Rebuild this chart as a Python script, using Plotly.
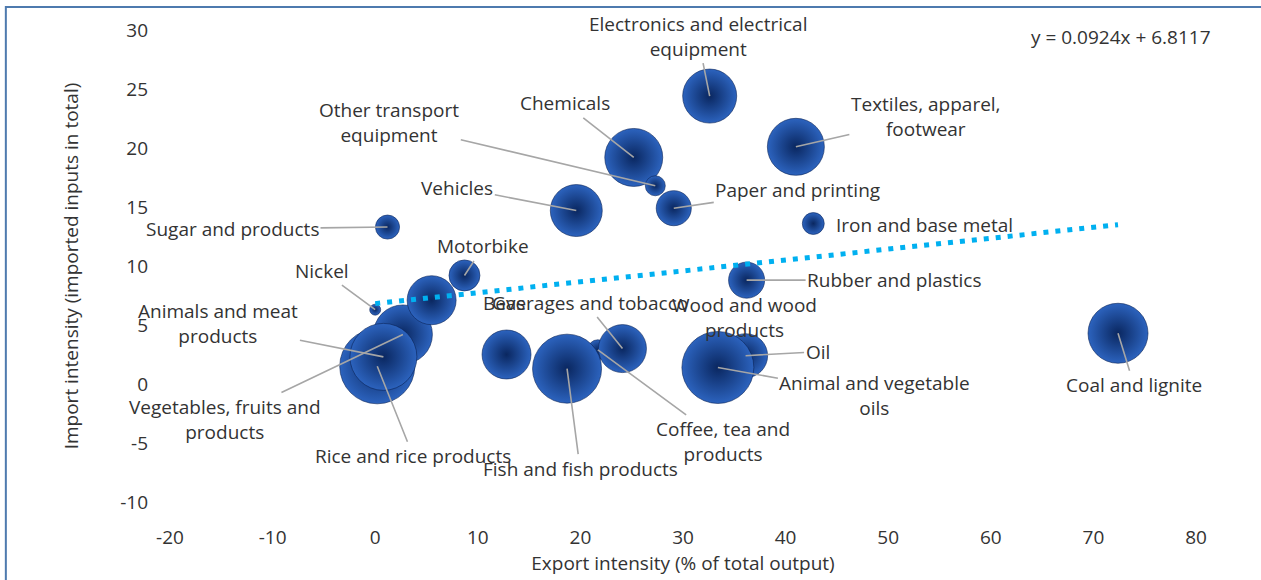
import plotly.graph_objects as go

# sector data (drawing order matters for overlaps)
sectors = [
    "Vegetables, fruits and products", "Rice and rice products", "Animals and meat products",
    "Wood and wood products", "Nickel", "Sugar and products", "Motorbike", "Gas",
    "Coffee, tea and products", "Beverages and tobacco", "Fish and fish products", "Oil",
    "Animal and vegetable oils", "Chemicals", "Other transport equipment", "Paper and printing",
    "Vehicles", "Electronics and electrical equipment", "Textiles, apparel, footwear",
    "Iron and base metal", "Rubber and plastics", "Coal and lignite",
]
export_intensity = [2.7, 0.2, 0.8, 5.5, 0.0, 1.2, 8.7, 12.8, 21.7, 24.1, 18.7, 36.1,
                    33.4, 25.2, 27.3, 29.1, 19.6, 32.6, 41.0, 42.7, 36.2, 72.4]
import_intensity = [4.2, 1.5, 2.3, 7.1, 6.3, 13.3, 9.2, 2.5, 2.9, 3.0, 1.3, 2.4,
                    1.4, 19.2, 16.8, 14.9, 14.7, 24.4, 20.1, 13.6, 8.8, 4.3]
output_share = [34.8, 56.3, 44.9, 24.0, 1.2, 5.8, 9.6, 24.0, 4.0, 23.0, 47.6, 19.4,
                51.8, 33.6, 4.0, 12.3, 27.0, 29.2, 32.5, 4.8, 13.0, 36.0]

x_ticks = list(range(-20, 90, 10))
y_ticks = list(range(-10, 35, 5))

slope, intercept = 0.0924, 6.8117

# label text and pixel offset of label from its bubble (ax, ay, leader line?)
labels = {
    "Electronics and electrical equipment": ("Electronics and electrical<br>equipment", -12, -60, True),
    "Chemicals": ("Chemicals", -69, -54, True),
    "Other transport equipment": ("Other transport<br>equipment", -266, -63, True),
    "Textiles, apparel, footwear": ("Textiles, apparel,<br>footwear", 130, -30, True),
    "Vehicles": ("Vehicles", -119, -23, True),
    "Paper and printing": ("Paper and printing", 124, -18, True),
    "Sugar and products": ("Sugar and products", -155, 2, True),
    "Iron and base metal": ("Iron and base metal", 111, 1, False),
    "Motorbike": ("Motorbike", 19, -29, True),
    "Nickel": ("Nickel", -53, -39, True),
    "Rubber and plastics": ("Rubber and plastics", 148, 0, True),
    "Gas": ("Gas", 2, -52, False),
    "Wood and wood products": ("Wood and wood<br>products", 313, 17, False),
    "Beverages and tobacco": ("Beverages and tobacco", -37, -46, True),
    "Animals and meat products": ("Animals and meat<br>products", -165, -33, True),
    "Oil": ("Oil", 72, -4, True),
    "Animal and vegetable oils": ("Animal and vegetable<br>oils", 157, 28, True),
    "Coal and lignite": ("Coal and lignite", 16, 52, True),
    "Vegetables, fruits and products": ("Vegetables, fruits and<br>products", -178, 85, True),
    "Rice and rice products": ("Rice and rice products", 36, 90, True),
    "Fish and fish products": ("Fish and fish products", 13, 100, True),
    "Coffee, tea and products": ("Coffee, tea and<br>products", 125, 92, True),
}

font_family = "Segoe UI, Open Sans, sans-serif"
text_color = "#333333"
fsize = 19

fig = go.Figure()

fig.add_trace(go.Scatter(
    x=export_intensity, y=import_intensity, mode="markers",
    marker=dict(
        size=output_share, sizemode="area", sizeref=0.02,
        color="#2C63BE",
        gradient=dict(type="radial", color="#0A2760"),
        line=dict(width=0.6, color="#0A2458"),
        opacity=1,
    ),
    hovertext=sectors, showlegend=False,
))

# linear trendline across the data range
x0, x1 = min(export_intensity), max(export_intensity)
fig.add_trace(go.Scatter(
    x=[x0, x1], y=[slope * x0 + intercept, slope * x1 + intercept],
    mode="lines", line=dict(color="#00B0F0", width=5, dash="5px,7px"),
    showlegend=False, hoverinfo="skip",
))

for name, xv, yv in zip(sectors, export_intensity, import_intensity):
    txt, ax, ay, leader = labels[name]
    fig.add_annotation(
        x=xv, y=yv, text=txt, ax=ax, ay=ay, align="center",
        showarrow=True, arrowhead=0, arrowwidth=1.6, standoff=0,
        arrowcolor="#A6A6A6" if leader else "rgba(0,0,0,0)",
        font=dict(family=font_family, size=fsize, color=text_color),
    )

fig.add_annotation(
    x=1.0, y=1.0, xref="paper", yref="paper", xanchor="right", yanchor="middle",
    xshift=17, yshift=-7,
    text="y = 0.0924x + 6.8117", showarrow=False,
    font=dict(family=font_family, size=fsize, color=text_color),
)

# outer frame of the figure box
fig.add_shape(type="rect", xref="paper", yref="paper",
              x0=-0.16, x1=1.08, y0=-0.3, y1=1.0487,
              line=dict(color="#4E7AAE", width=2))

fig.update_layout(
    width=1261, height=580,
    margin=dict(l=170, r=65, t=30, b=78),
    plot_bgcolor="white", paper_bgcolor="white",
    font=dict(family=font_family, size=fsize, color=text_color),
    xaxis=dict(
        range=[-20, 80], tickvals=x_ticks, ticktext=[str(v) for v in x_ticks],
        showgrid=False, zeroline=False, showline=False, ticks="", ticklabelstandoff=22,
        title=dict(text="Export intensity (% of total output)", standoff=1,
                   font=dict(size=fsize)),
    ),
    yaxis=dict(
        range=[-10, 30], tickvals=y_ticks, ticktext=[str(v) for v in y_ticks],
        showgrid=False, zeroline=False, showline=False, ticks="", ticklabelstandoff=21,
        title=dict(text="Import intensity (imported inputs in total)", standoff=36,
                   font=dict(size=fsize)),
    ),
)

fig.write_html("out.html", config={"displayModeBar": False},
               post_script="document.body.style.margin='0';")
